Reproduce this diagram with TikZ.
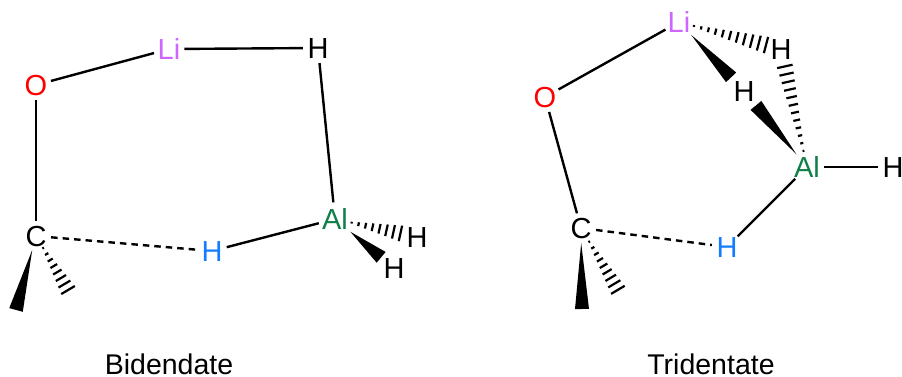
\documentclass[tikz,border=0pt]{standalone}
\usepackage{fontspec}
\setmainfont{Liberation Sans}
\usetikzlibrary{calc}
\definecolor{liv}{RGB}{204,102,255}
\definecolor{alg}{RGB}{16,128,72}
\definecolor{hbl}{RGB}{20,125,255}
\tikzset{
  atom/.style={circle,inner sep=0pt,minimum size=30pt,font=\fontsize{29}{29}\selectfont,text height=20.7pt,text depth=0pt},
  caption/.style={font=\fontsize{28.5}{29}\selectfont,inner sep=0pt,text height=20.4pt,text depth=0pt},
  bond/.style={line width=2.4pt},
  dashbond/.style={line width=2.4pt,dash pattern=on 6.5pt off 5pt},
  hashline/.style={line width=2.2pt}
}
\newcommand\wedgebond[5]{%
  \coordinate (ws) at ($(#1)!#3!(#2)$);
  \coordinate (we) at ($(#1)!#4!(#2)$);
  \fill[black] (ws) -- ($(we)!#5!90:(ws)$) -- ($(we)!#5!-90:(ws)$) -- cycle;
}
\newcommand\hashbond[6]{%
  \coordinate (hs) at ($(#1)!#3!(#2)$);
  \coordinate (he) at ($(#1)!#4!(#2)$);
  \foreach \k in {0,...,#6}{%
    \pgfmathsetmacro\hf{\k/#6}
    \pgfmathsetmacro\hw{#5*\hf+0.9}
    \coordinate (hp) at ($(hs)!\hf!(he)$);
    \draw[hashline] ($(hp)!\hw pt!90:(#1)$) -- ($(hp)!\hw pt!-90:(#1)$);
  }%
}
\begin{document}
\begin{tikzpicture}[x=1pt,y=-1pt]
\useasboundingbox (0,0) rectangle (902,376);
% left molecule
\node[atom,text=red] (O1) at (36,85) {O};
\node[atom,text=liv] (Li1) at (169,49) {Li};
\node[atom] (H1a) at (318,48) {H};
\node[atom,text=alg] (Al1) at (335,219) {Al};
\node[atom,text=hbl] (H1b) at (212,251) {H};
\node[atom] (C1) at (36,236) {C};
\node[atom] (H1c) at (417,237) {H};
\node[atom] (H1d) at (394,268) {H};
\coordinate (M1a) at (16,310);
\coordinate (M1b) at (68,290);
\draw[bond] (O1) -- (Li1);
\draw[bond] (Li1) -- (H1a);
\draw[bond] (H1a) -- (Al1);
\draw[bond] (Al1) -- (H1b);
\draw[bond] (O1) -- (C1);
\draw[dashbond] (C1) -- (H1b);
\wedgebond{C1}{M1a}{14.5pt}{76.6pt}{7pt}
\hashbond{C1}{M1b}{14pt}{62.8pt}{7pt}{7}
\wedgebond{Al1}{H1d}{20pt}{60pt}{7pt}
\hashbond{Al1}{H1c}{17pt}{67pt}{7pt}{7}
\node[caption] (cap1) at (169,364) {Bidendate};
% right molecule
\node[atom,text=red] (O2) at (545,97) {O};
\node[atom,text=liv] (Li2) at (679,22) {Li};
\node[atom] (H2a) at (781,49) {H};
\node[atom] (H2b) at (744,91) {H};
\node[atom,text=alg] (Al2) at (807,167) {Al};
\node[atom] (H2c) at (893,167) {H};
\node[atom] (C2) at (581,228) {C};
\node[atom,text=hbl] (H2d) at (727,247) {H};
\coordinate (M2a) at (582,309);
\coordinate (M2b) at (618,290);
\draw[bond] (O2) -- (Li2);
\draw[bond] (O2) -- (C2);
\draw[bond] (Al2) -- (H2c);
\draw[bond] (Al2) -- (H2d);
\draw[dashbond] (C2) -- (H2d);
\wedgebond{Li2}{H2b}{17.8pt}{76pt}{7pt}
\hashbond{Li2}{H2a}{15.5pt}{90pt}{7.5pt}{10}
\hashbond{Al2}{H2a}{16.5pt}{103pt}{7pt}{11}
\wedgebond{Al2}{H2b}{16.5pt}{80pt}{7pt}
\wedgebond{C2}{M2a}{15pt}{81pt}{7pt}
\hashbond{C2}{M2b}{16pt}{72pt}{7pt}{8}
\node[caption] (cap2) at (711,364) {Tridentate};
\end{tikzpicture}
\end{document}
